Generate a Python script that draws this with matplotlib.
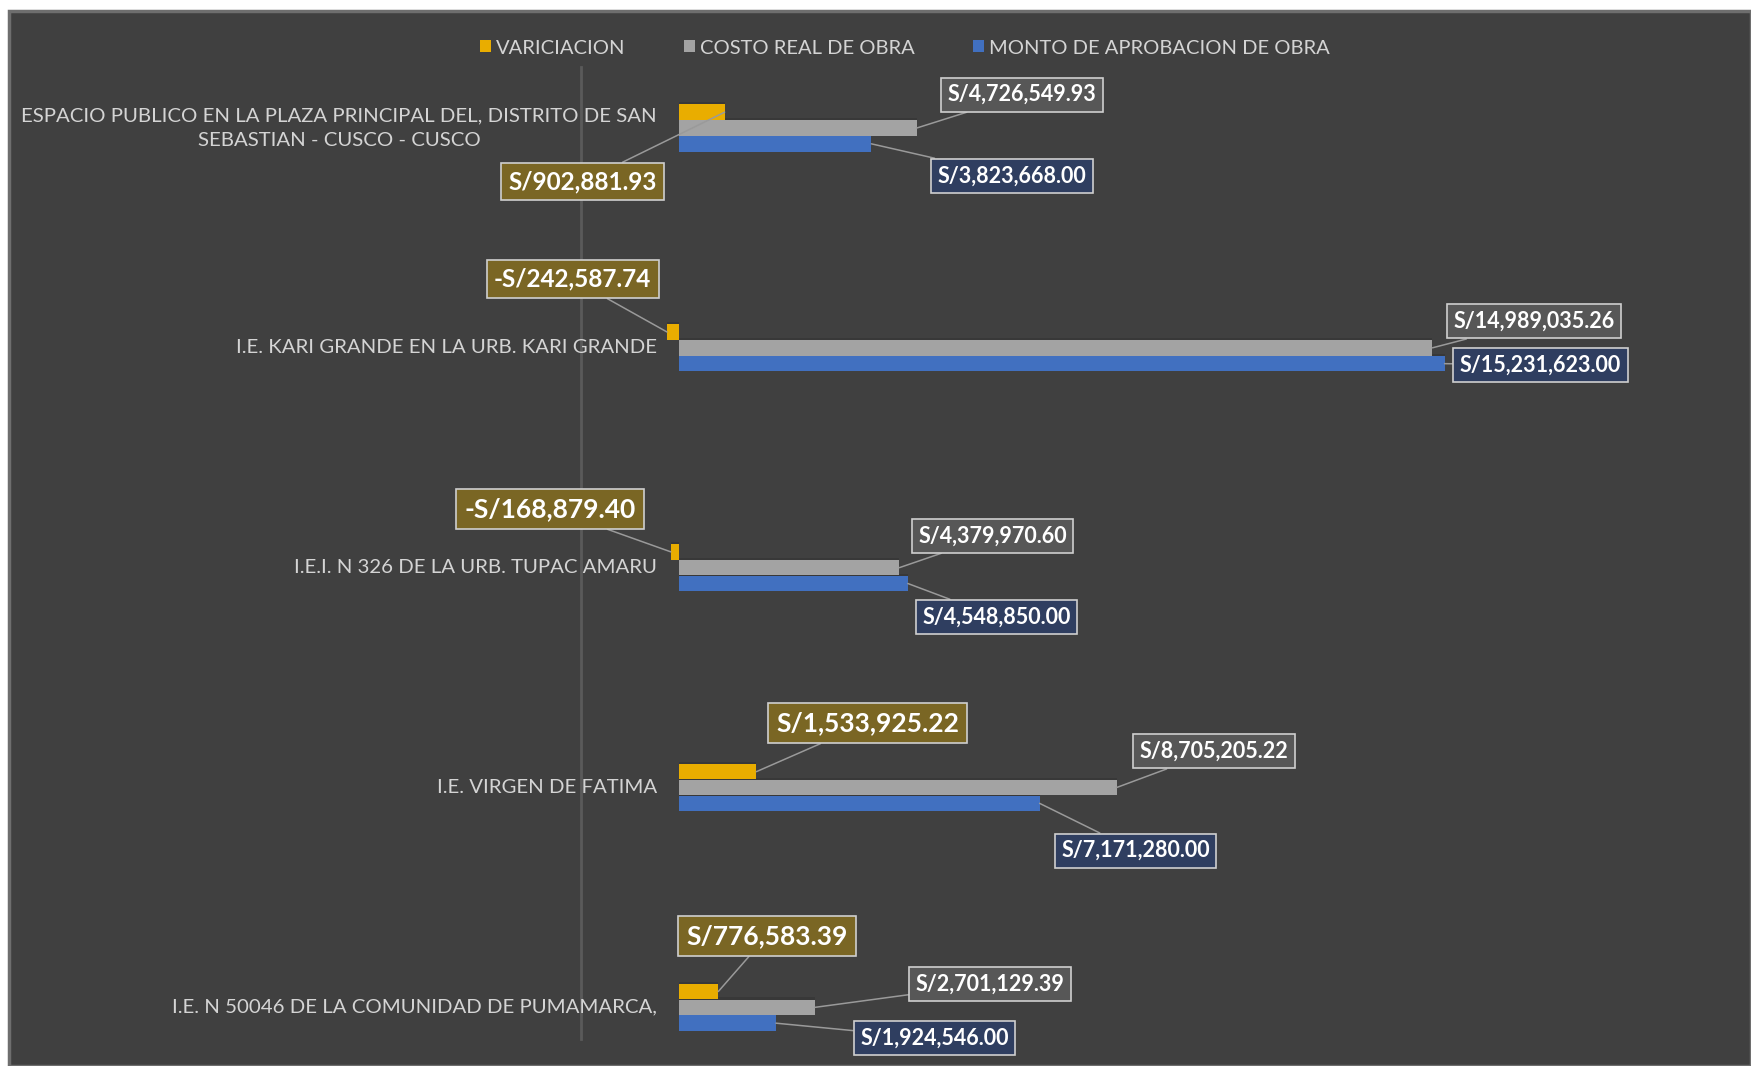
import matplotlib
matplotlib.use("Agg")
import matplotlib.pyplot as plt
from matplotlib.patches import Rectangle
import numpy as np

# ---- data ----
categories = [
    "ESPACIO PUBLICO EN LA PLAZA PRINCIPAL DEL, DISTRITO DE SAN\nSEBASTIAN - CUSCO - CUSCO",
    "I.E. KARI GRANDE EN LA URB. KARI GRANDE",
    "I.E.I. N 326 DE LA URB. TUPAC AMARU",
    "I.E. VIRGEN DE FATIMA",
    "I.E. N 50046 DE LA COMUNIDAD DE PUMAMARCA,",
]
variacion = [902881.93, -242587.74, -168879.40, 1533925.22, 776583.39]
costo_real = [4726549.93, 14989035.26, 4379970.60, 8705205.22, 2701129.39]
monto_aprob = [3823668.00, 15231623.00, 4548850.00, 7171280.00, 1924546.00]
series_names = ["VARICIACION", "COSTO REAL DE OBRA", "MONTO DE APROBACION DE OBRA"]

# ---- style / layout ----
BG = "#404040"
bar_colors = ["#e9ad00", "#a3a3a3", "#4170c0"]
box_colors = ["#7a6624", "#575757", "#2f3e60"]
txt_col = "#d4d4d4"
FONT = ["Liberation Sans Narrow", "Lato", "DejaVu Sans"]

# label offsets (points) from bar end: (dx, dy_down), per series per category
label_offsets = [
    [(-102, 50), (-68, -38), (-87, -31), (80, -35), (35, -40)],
    [(76, -24), (73, -19), (67, -23), (70, -26), (126, -17)],
    [(101, 23), (69, 1), (64, 24), (69, 34), (114, 11)],
]
label_sizes = [[17.5, 17.5, 19, 19, 19], [15.5] * 5, [15.5] * 5]

W, H = 1751, 1066
fig = plt.figure(figsize=(W / 100, H / 100), dpi=100, facecolor="white")
# chart background with border
fig.patches.append(Rectangle((9 / W, 0), 1 - 9 / W, 1 - 11 / H, transform=fig.transFigure,
                             facecolor=BG, edgecolor="#6e6e6e", linewidth=2.5, zorder=-10))

ax_left = 581 / W
ax = fig.add_axes([ax_left, 1 - 1039 / H, 1 - ax_left, (1039 - 67) / H])
ax.set_zorder(1)
ax.set_facecolor("none")
ax.set_xlim(-1.956e6, 21.33e6)
ax.set_ylim(4.144, -0.2775)

y = np.arange(len(categories))
step = 0.072
bh = 0.07
all_series = [variacion, costo_real, monto_aprob]
for i, (vals, col, name) in enumerate(zip(all_series, bar_colors, series_names)):
    yy = y + (i - 1) * step
    # subtle 3D-like shading behind bar
    ax.barh(yy - 0.01, vals, height=bh, color="#2a2a2a", alpha=0.35, zorder=1)
    ax.barh(yy, vals, height=bh, color=col, label=name, zorder=2)
    for j, v in enumerate(vals):
        dx, dy = label_offsets[i][j]
        ax.annotate(f"{'-' if v < 0 else ''}S/{abs(v):,.2f}", xy=(v, yy[j]), xycoords="data",
                    xytext=(dx, -dy), textcoords="offset points",
                    ha="center", va="center", color="white", fontweight="bold",
                    fontsize=label_sizes[i][j], family=FONT,
                    bbox=dict(boxstyle="square,pad=0.3", facecolor=box_colors[i],
                              edgecolor="#cfcfcf", linewidth=1.2),
                    arrowprops=dict(arrowstyle="-", color="#9a9a9a", lw=1.1,
                                    shrinkA=0, shrinkB=0),
                    zorder=5)

# category labels
for j, cat in enumerate(categories):
    ax.annotate(cat, xy=(0, y[j]), xycoords="data", xytext=(-16, 0),
                textcoords="offset points", ha="right", va="center",
                multialignment="right" if j else "center",
                color=txt_col, fontsize=14.7, family=FONT, linespacing=1.5,
                annotation_clip=False)

ax.set_yticks([])
ax.set_xticks([])
for s in ["top", "right", "bottom"]:
    ax.spines[s].set_visible(False)
ax.spines["left"].set_color("#5a5a5a")
ax.spines["left"].set_linewidth(2)

leg = fig.legend(loc="center", bbox_to_anchor=(905 / W, 1 - 48 / H), ncol=3, frameon=False,
                 handlelength=0.55, handleheight=0.55, handletextpad=0.25, columnspacing=2.9,
                 prop={"family": FONT, "size": 14.5})
for t in leg.get_texts():
    t.set_color(txt_col)

fig.savefig("out.png", dpi=100, facecolor="white")
